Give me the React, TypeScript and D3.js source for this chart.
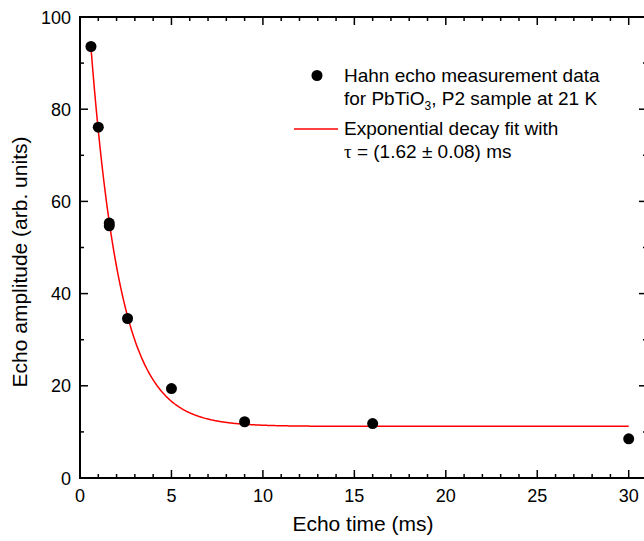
import React from "react";
import * as d3 from "d3";

// measured echo amplitudes
const echoTimes = [0.6, 1.0, 1.6, 1.6, 2.6, 5, 9, 16, 30];
const echoAmps = [93.6, 76.1, 55.3, 54.7, 34.6, 19.4, 12.2, 11.8, 8.5];

// exponential decay fit y = y0 + A*exp(-t/tau)
const fitY0 = 11.2;
const fitA = 119;
const fitTau = 1.62;
const fitStart = 0.6;
const fitEnd = 30;

const xMajor = [0, 5, 10, 15, 20, 25, 30];
const yMajor = [0, 20, 40, 60, 80, 100];

const W = 644;
const H = 541;
const font = "'Liberation Sans', Arial, sans-serif";

export default function App() {
  const x = d3.scaleLinear().domain([0, 31]).range([80, 647]);
  const y = d3.scaleLinear().domain([0, 100]).range([478, 17]);

  const xMinor = d3.range(0, 32, 1).filter((v) => v % 5 !== 0);
  const yMinor = d3.range(10, 100, 20);

  const fitPts = d3.range(fitStart, fitEnd + 0.001, 0.05).map((t) => [t, fitY0 + fitA * Math.exp(-t / fitTau)] as [number, number]);
  const line = d3.line<[number, number]>().x((d) => x(d[0])).y((d) => y(d[1]));

  const [x0, x1] = x.range();
  const [y0, y1] = y.range();

  return (
    <svg width={W} height={H} style={{ position: "absolute", left: 0, top: 0 }} fontFamily={font}>
      <rect width={W} height={H} fill="#fff" />
      {/* frame */}
      <rect x={x0} y={y1} width={x1 - x0} height={y0 - y1} fill="none" stroke="#000" strokeWidth={2} />
      {/* x ticks bottom & top */}
      {xMajor.map((v) => (
        <g key={"xm" + v}>
          <line x1={x(v)} x2={x(v)} y1={y0} y2={y0 - 8} stroke="#000" strokeWidth={1.5} />
          <line x1={x(v)} x2={x(v)} y1={y1} y2={y1 + 8} stroke="#000" strokeWidth={1.5} />
          <text x={x(v)} y={502} textAnchor="middle" fontSize={18}>{v}</text>
        </g>
      ))}
      {xMinor.map((v) => (
        <g key={"xn" + v}>
          <line x1={x(v)} x2={x(v)} y1={y0} y2={y0 - 4} stroke="#000" strokeWidth={1.5} />
          <line x1={x(v)} x2={x(v)} y1={y1} y2={y1 + 4} stroke="#000" strokeWidth={1.5} />
        </g>
      ))}
      {/* y ticks left & right */}
      {yMajor.map((v) => (
        <g key={"ym" + v}>
          <line x1={x0} x2={x0 + 8} y1={y(v)} y2={y(v)} stroke="#000" strokeWidth={1.5} />
          <line x1={x1} x2={x1 - 8} y1={y(v)} y2={y(v)} stroke="#000" strokeWidth={1.5} />
          <text x={71} y={y(v) + 6.5} textAnchor="end" fontSize={18}>{v}</text>
        </g>
      ))}
      {yMinor.map((v) => (
        <g key={"yn" + v}>
          <line x1={x0} x2={x0 + 4} y1={y(v)} y2={y(v)} stroke="#000" strokeWidth={1.5} />
          <line x1={x1} x2={x1 - 4} y1={y(v)} y2={y(v)} stroke="#000" strokeWidth={1.5} />
        </g>
      ))}
      {/* axis titles */}
      <text x={363} y={531} textAnchor="middle" fontSize={21}>Echo time (ms)</text>
      <text transform="translate(27,262) rotate(-90)" textAnchor="middle" fontSize={21}>Echo amplitude (arb. units)</text>
      {/* fit */}
      <path d={line(fitPts) || ""} fill="none" stroke="#ff0000" strokeWidth={1.5} />
      {/* data */}
      {echoTimes.map((t, i) => (
        <circle key={i} cx={x(t)} cy={y(echoAmps[i])} r={5.5} fill="#000" />
      ))}
      {/* legend */}
      <circle cx={317} cy={75.5} r={5.5} fill="#000" />
      <text x={344} y={82} fontSize={19}>Hahn echo measurement data</text>
      <text x={344} y={105} fontSize={19}>
        for PbTiO<tspan fontSize={12} dy={5}>3</tspan><tspan dy={-5}>, P2 sample at 21 K</tspan>
      </text>
      <line x1={294} x2={338} y1={129} y2={129} stroke="#ff0000" strokeWidth={1.5} />
      <text x={344} y={135} fontSize={19}>Exponential decay fit with</text>
      <text x={344} y={158} fontSize={19}>
        <tspan fontFamily="'Liberation Serif', serif">τ</tspan> = (1.62 ± 0.08) ms
      </text>
    </svg>
  );
}
